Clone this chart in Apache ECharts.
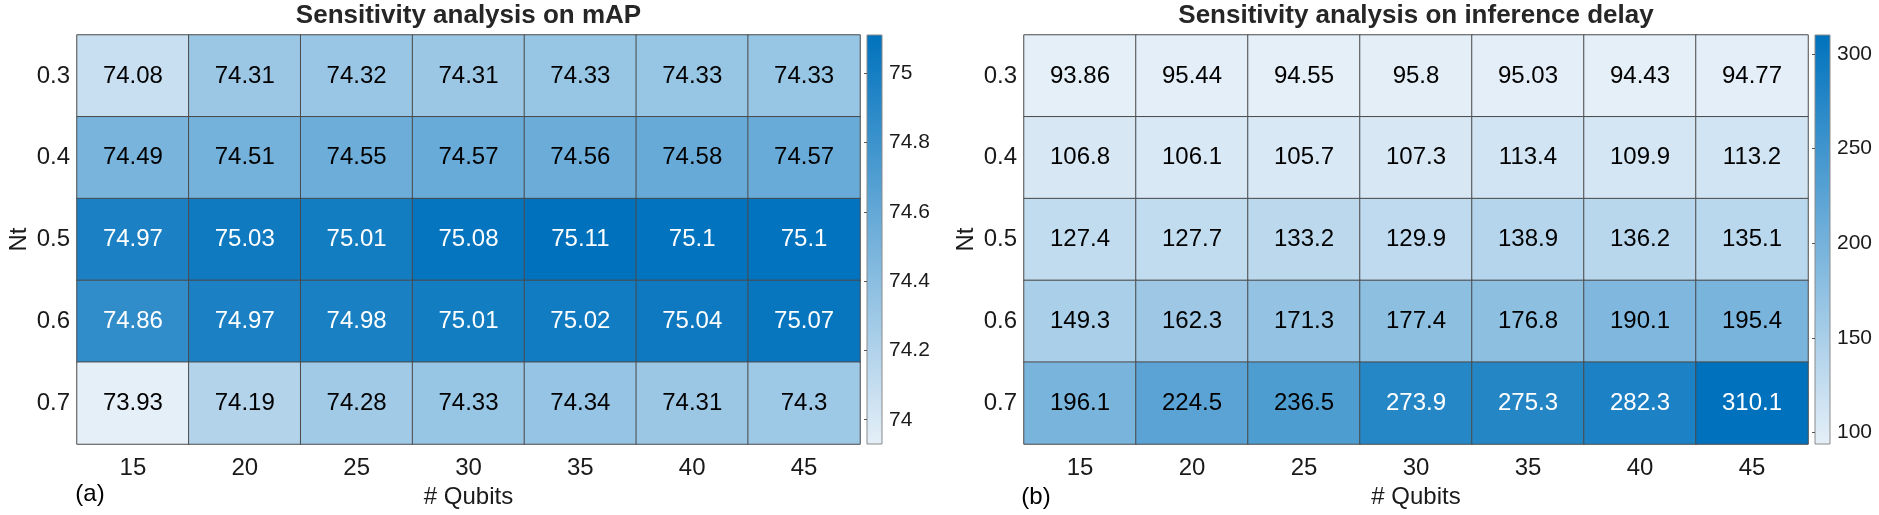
<!DOCTYPE html>
<html>
<head>
<meta charset="utf-8">
<script src="https://cdn.jsdelivr.net/npm/echarts@6/dist/echarts.min.js"></script>
<style>
  html, body { margin: 0; padding: 0; background: #fff; }
  #main { width: 1879px; height: 515px; }
</style>
</head>
<body>
<div id="main"></div>
<script>
// data
var qubits = ['15', '20', '25', '30', '35', '40', '45'];
var ntLevels = ['0.3', '0.4', '0.5', '0.6', '0.7'];

var mapRows = [
  [74.08, 74.31, 74.32, 74.31, 74.33, 74.33, 74.33],
  [74.49, 74.51, 74.55, 74.57, 74.56, 74.58, 74.57],
  [74.97, 75.03, 75.01, 75.08, 75.11, 75.1, 75.1],
  [74.86, 74.97, 74.98, 75.01, 75.02, 75.04, 75.07],
  [73.93, 74.19, 74.28, 74.33, 74.34, 74.31, 74.3]
];
var delayRows = [
  [93.86, 95.44, 94.55, 95.8, 95.03, 94.43, 94.77],
  [106.8, 106.1, 105.7, 107.3, 113.4, 109.9, 113.2],
  [127.4, 127.7, 133.2, 129.9, 138.9, 136.2, 135.1],
  [149.3, 162.3, 171.3, 177.4, 176.8, 190.1, 195.4],
  [196.1, 224.5, 236.5, 273.9, 275.3, 282.3, 310.1]
];
var mapTicks = [74, 74.2, 74.4, 74.6, 74.8, 75];
var delayTicks = [100, 150, 200, 250, 300];

var FONT = '"Liberation Sans", Arial, sans-serif';
var LOW = '#E5EFF8', HIGH = '#0072BD';

function range(rows) {
  var all = [].concat.apply([], rows);
  return [Math.min.apply(null, all), Math.max.apply(null, all)];
}

//turn rows into heatmap items, dark cells get white text
function cells(rows, lim) {
  var out = [];
  rows.forEach(function(row, y) {
    row.forEach(function(v, x) {
      var t = (v - lim[0]) / (lim[1] - lim[0]);
      out.push({ value: [x, y, v], label: { color: t > 0.72 ? '#ffffff' : '#000000' } });
    });
  });
  return out;
}

var mapLim = range(mapRows), delayLim = range(delayRows);

var panels = [
  { left: 77, width: 783, cbLeft: 867, title: 'Sensitivity analysis on mAP', tag: '(a)', tagX: 90, tagY: 494, ntX: 18 },
  { left: 1024, width: 784, cbLeft: 1815, title: 'Sensitivity analysis on inference delay', tag: '(b)', tagX: 1036, tagY: 497, ntX: 964 }
];
var TOP = 35, H = 409, CBW = 15;

var grids = [], xAxes = [], yAxes = [], series = [], visualMaps = [], graphics = [];

panels.forEach(function(p, i) {
  var lim = i === 0 ? mapLim : delayLim;
  var rows = i === 0 ? mapRows : delayRows;
  var ticks = i === 0 ? mapTicks : delayTicks;

  // heatmap grid
  grids.push({ left: p.left, top: TOP, width: p.width, height: H });
  xAxes.push({
    type: 'category', gridIndex: 2 * i, data: qubits,
    axisLine: { show: false }, axisTick: { show: false }, splitArea: { show: false },
    axisLabel: { fontSize: 24, color: '#1a1a1a', fontFamily: FONT, margin: 12 },
    name: '# Qubits', nameLocation: 'middle', nameGap: 40,
    nameTextStyle: { fontSize: 24, color: '#1a1a1a', fontFamily: FONT }
  });
  yAxes.push({
    type: 'category', gridIndex: 2 * i, data: ntLevels, inverse: true,
    axisLine: { show: false }, axisTick: { show: false }, splitArea: { show: false },
    axisLabel: { fontSize: 24, color: '#1a1a1a', fontFamily: FONT, margin: 7 },
    name: 'Nt', nameLocation: 'middle', nameGap: 46, nameRotate: 90,
    nameTextStyle: { fontSize: 24, color: '#1a1a1a', fontFamily: FONT }
  });

  // colorbar grid, gradient fill with value axis for ticks
  grids.push({
    left: p.cbLeft, top: TOP, width: CBW, height: H, show: true,
    borderColor: '#8a8a8a', borderWidth: 1,
    backgroundColor: { type: 'linear', x: 0, y: 0, x2: 0, y2: 1,
      colorStops: [{ offset: 0, color: HIGH }, { offset: 1, color: LOW }] }
  });
  xAxes.push({ type: 'value', gridIndex: 2 * i + 1, show: false, min: 0, max: 1 });
  yAxes.push({
    type: 'value', gridIndex: 2 * i + 1, position: 'right', min: lim[0], max: lim[1],
    axisLine: { show: false }, splitLine: { show: false },
    axisTick: { show: true, inside: true, length: 3, lineStyle: { color: '#555' }, customValues: ticks },
    axisLabel: { fontSize: 21, color: '#1a1a1a', fontFamily: FONT, margin: 7, customValues: ticks }
  });

  series.push({
    type: 'heatmap', xAxisIndex: 2 * i, yAxisIndex: 2 * i,
    data: cells(rows, lim),
    itemStyle: { borderColor: '#4a4a4a', borderWidth: 1 },
    label: { show: true, fontSize: 24, fontFamily: FONT,
      formatter: function(d) { return String(d.value[2]); } },
    emphasis: { disabled: true }
  });

  visualMaps.push({
    show: false, type: 'continuous', seriesIndex: i, dimension: 2,
    min: lim[0], max: lim[1], inRange: { color: [LOW, HIGH] }
  });

  graphics.push({
    type: 'text', x: p.left + p.width / 2, y: 16,
    style: { text: p.title, font: 'bold 26px ' + FONT, fill: '#262626', textAlign: 'center', textVerticalAlign: 'middle' }
  });
  graphics.push({
    type: 'text', x: p.tagX, y: p.tagY,
    style: { text: p.tag, font: '24px ' + FONT, fill: '#000', textAlign: 'center', textVerticalAlign: 'middle' }
  });
});

var chart = echarts.init(document.getElementById('main'));
chart.setOption({
  backgroundColor: '#ffffff',
  animation: false,
  grid: grids,
  xAxis: xAxes,
  yAxis: yAxes,
  visualMap: visualMaps,
  series: series,
  graphic: graphics
});
window.onresize = chart.resize;
</script>
</body>
</html>
